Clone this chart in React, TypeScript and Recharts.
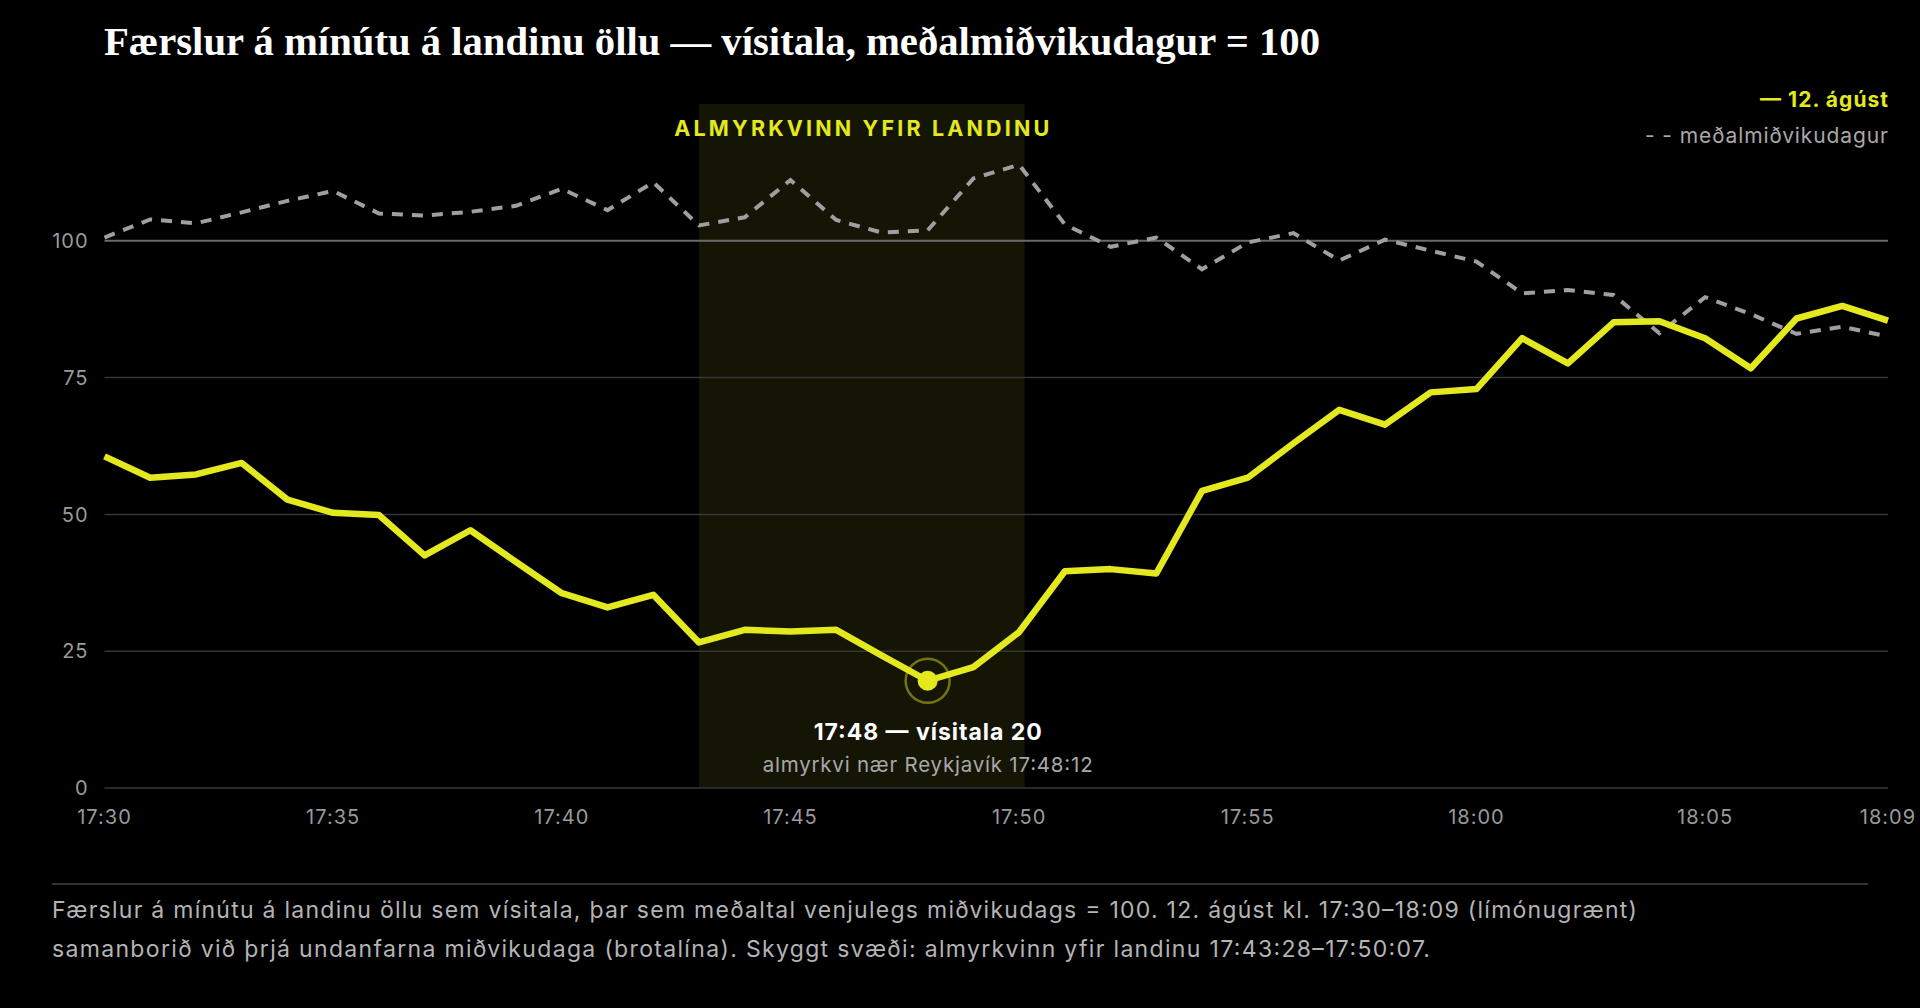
import React from "react";
import {
  LineChart,
  Line,
  XAxis,
  YAxis,
  ReferenceArea,
  ReferenceLine,
  ReferenceDot,
} from "recharts";

const timeLabels = [
  "17:30", "17:31", "17:32", "17:33", "17:34", "17:35", "17:36", "17:37", "17:38", "17:39",
  "17:40", "17:41", "17:42", "17:43", "17:44", "17:45", "17:46", "17:47", "17:48", "17:49",
  "17:50", "17:51", "17:52", "17:53", "17:54", "17:55", "17:56", "17:57", "17:58", "17:59",
  "18:00", "18:01", "18:02", "18:03", "18:04", "18:05", "18:06", "18:07", "18:08", "18:09",
];

const aug12 = [
  60.6, 56.7, 57.3, 59.4, 52.7, 50.3, 49.9, 42.5, 47.1, 41.3,
  35.6, 33.0, 35.3, 26.6, 28.9, 28.6, 28.9, 24.2, 19.6, 22.1,
  28.5, 39.6, 40.0, 39.2, 54.3, 56.7, 63.0, 69.1, 66.4, 72.3,
  72.9, 82.2, 77.6, 85.1, 85.3, 82.2, 76.7, 85.8, 88.1, 85.4,
];

const avgWednesday = [
  100.6, 103.9, 103.2, 105.2, 107.3, 109.1, 105.0, 104.6, 105.3, 106.4,
  109.5, 105.6, 110.7, 102.8, 104.3, 111.1, 103.8, 101.5, 101.9, 111.4,
  113.9, 103.0, 98.9, 100.6, 94.8, 99.7, 101.4, 96.4, 100.2, 98.2,
  96.2, 90.4, 91.0, 90.1, 83.1, 89.7, 86.6, 83.0, 84.3, 82.5,
];

const xTicks = [0, 5, 10, 15, 20, 25, 30, 35, 39];
const yTicks = [0, 25, 50, 75, 100];

// Eclipse totality window (minute index from 17:30)
const shadeStart = 13;
const shadeEnd = 20.12;
const minIndex = 18;
const minValue = 19.6;

const data = timeLabels.map((t, i) => ({
  i,
  t,
  aug12: aug12[i],
  avg: avgWednesday[i],
}));

const YELLOW = "#e3e81f";
const GREY = "#9f9f9f";
const SANS = "Inter, 'Noto Sans', sans-serif";

const AreaLabel = (props: any) => {
  const vb = props.viewBox || {};
  return (
    <text
      x={vb.x + vb.width / 2}
      y={vb.y + 32}
      textAnchor="middle"
      fill={YELLOW}
      fontFamily={SANS}
      fontWeight={700}
      fontSize={21.5}
      textLength={375}
      lengthAdjust="spacing"
    >
      ALMYRKVINN YFIR LANDINU
    </text>
  );
};

const MinMarker = (props: any) => {
  const { cx, cy } = props;
  return (
    <g>
      <circle cx={cx} cy={cy} r={22} fill="none" stroke={YELLOW} strokeOpacity={0.45} strokeWidth={2.5} />
      <circle cx={cx} cy={cy} r={10} fill={YELLOW} />
      <text
        x={cx}
        y={cy + 59}
        textAnchor="middle"
        fill="#ffffff"
        fontFamily={SANS}
        fontWeight={700}
        fontSize={23}
        textLength={228}
        lengthAdjust="spacing"
      >
        {`${timeLabels[minIndex]} — vísitala ${Math.round(minValue)}`}
      </text>
      <text
        x={cx}
        y={cy + 91}
        textAnchor="middle"
        fill="#a8a8a8"
        fontFamily={SANS}
        fontSize={20.5}
        textLength={330}
        lengthAdjust="spacing"
      >
        almyrkvi nær Reykjavík 17:48:12
      </text>
    </g>
  );
};

const gridValues = yTicks.filter((v) => v !== 100);

export default function App() {
  return (
    <div
      style={{
        position: "fixed",
        left: 0,
        top: 0,
        width: 1920,
        height: 1008,
        background: "#000000",
        fontFamily: SANS,
        overflow: "hidden",
      }}
    >
      <div style={{ position: "absolute", left: 0, top: 0 }}>
        <LineChart
          width={1920}
          height={850}
          data={data}
          margin={{ top: 104, right: 32, left: 44.5, bottom: 22 }}
        >
          <ReferenceArea
            x1={shadeStart}
            x2={shadeEnd}
            y1={0}
            y2={125}
            fill="#151506"
            fillOpacity={1}
            stroke="none"
            label={<AreaLabel />}
          />
          {gridValues.map((v) => (
            <ReferenceLine key={v} y={v} stroke="#363636" strokeWidth={1.5} />
          ))}
          <ReferenceLine y={100} stroke="#6a6a6a" strokeWidth={2} />
          <XAxis
            dataKey="i"
            type="number"
            domain={[0, 39]}
            ticks={xTicks}
            tickFormatter={(v: number) => timeLabels[v]}
            axisLine={false}
            tickLine={false}
            tickSize={0}
            tickMargin={22}
            height={40}
            interval={0}
            tick={{ fill: "#9a9a9a", fontSize: 20, fontFamily: SANS, letterSpacing: 1 }}
          />
          <YAxis
            type="number"
            domain={[0, 125]}
            ticks={yTicks}
            axisLine={false}
            tickLine={false}
            tickSize={0}
            tickMargin={16}
            width={60}
            interval={0}
            tick={{ fill: "#9a9a9a", fontSize: 20, fontFamily: SANS, letterSpacing: 1 }}
          />
          <Line
            type="linear"
            dataKey="avg"
            stroke={GREY}
            strokeWidth={4}
            strokeDasharray="11 9"
            dot={false}
            activeDot={false}
            isAnimationActive={false}
          />
          <Line
            type="linear"
            dataKey="aug12"
            stroke={YELLOW}
            strokeWidth={6.5}
            strokeLinejoin="round"
            dot={false}
            activeDot={false}
            isAnimationActive={false}
          />
          <ReferenceDot x={minIndex} y={minValue} r={10} shape={<MinMarker />} />
        </LineChart>
      </div>
      <svg
        width={1920}
        height={1008}
        style={{ position: "absolute", left: 0, top: 0, pointerEvents: "none" }}
      >
        <text
          x={104}
          y={55}
          fill="#ffffff"
          fontFamily="'Liberation Serif', 'DejaVu Serif', serif"
          fontWeight={700}
          fontSize={41}
          textLength={1216}
          lengthAdjust="spacingAndGlyphs"
        >
          Færslur á mínútu á landinu öllu — vísitala, meðalmiðvikudagur = 100
        </text>
        <text
          x={1888}
          y={107}
          textAnchor="end"
          fill={YELLOW}
          fontFamily={SANS}
          fontWeight={700}
          fontSize={21}
          textLength={128}
          lengthAdjust="spacing"
        >
          — 12. ágúst
        </text>
        <text
          x={1888}
          y={143}
          textAnchor="end"
          fill="#a8a8a8"
          fontFamily={SANS}
          fontSize={21}
          textLength={243}
          lengthAdjust="spacing"
        >
          - - meðalmiðvikudagur
        </text>
        <line x1={52} y1={884} x2={1868} y2={884} stroke="#444444" strokeWidth={1.5} />
        <text
          x={52}
          y={918}
          fill="#b4b4b4"
          fontFamily={SANS}
          fontSize={23}
          textLength={1585}
          lengthAdjust="spacing"
        >
          Færslur á mínútu á landinu öllu sem vísitala, þar sem meðaltal venjulegs miðvikudags = 100. 12. ágúst kl. 17:30–18:09 (límónugrænt)
        </text>
        <text
          x={52}
          y={957}
          fill="#b4b4b4"
          fontFamily={SANS}
          fontSize={23}
          textLength={1378}
          lengthAdjust="spacing"
        >
          samanborið við þrjá undanfarna miðvikudaga (brotalína). Skyggt svæði: almyrkvinn yfir landinu 17:43:28–17:50:07.
        </text>
      </svg>
    </div>
  );
}
